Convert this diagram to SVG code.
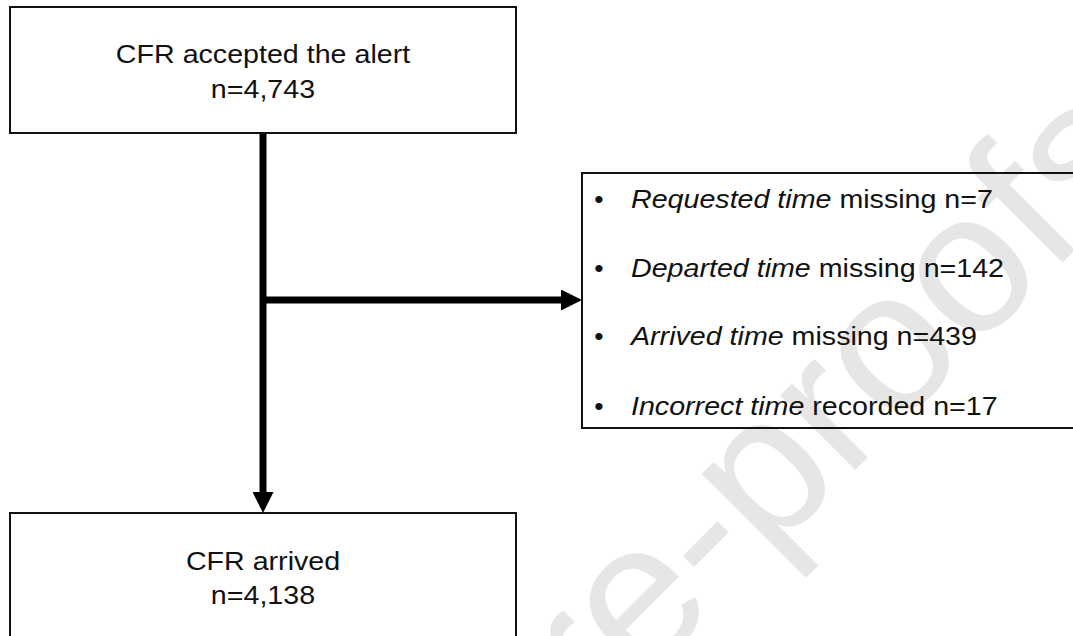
<svg xmlns="http://www.w3.org/2000/svg" width="1073" height="636" viewBox="0 0 1073 636">
  <defs>
    <style>
      .box { fill: none; stroke: #111; stroke-width: 2; }
      .lbl { font-family: "Liberation Sans", Arial, sans-serif; font-size: 26.5px; fill: #111; }
      .wm { font-family: "Liberation Sans", Arial, sans-serif; font-size: 200px; fill: #e6e6e6; }
      .conn { fill: none; stroke: #000; stroke-width: 7; }
    </style>
    <marker id="head" viewBox="0 0 21 21" refX="0" refY="10.5" markerWidth="21" markerHeight="21" markerUnits="userSpaceOnUse" orient="auto">
      <path d="M0,0 L21,10.5 L0,21 Z" fill="#000"/>
    </marker>
  </defs>
  <rect x="0" y="0" width="1073" height="636" fill="#fff"/>
  <text class="wm" text-anchor="end" transform="translate(1160,165) rotate(-45)">Journal Pre-proofs</text>

  <g id="connectors">
    <path class="conn" d="M263,133 V492" marker-end="url(#head)"/>
    <path class="conn" d="M263,300 H561" marker-end="url(#head)"/>
  </g>

  <g id="node-accepted">
    <rect class="box" x="10" y="7" width="506" height="126"/>
    <g transform="translate(263,0) scale(1.08,1)">
      <text class="lbl" text-anchor="middle" x="0" y="63">CFR accepted the alert</text>
      <text class="lbl" text-anchor="middle" x="0" y="98">n=4,743</text>
    </g>
  </g>

  <g id="node-excluded">
    <rect class="box" x="582" y="173" width="500" height="255"/>
    <g class="lbl">
      <text class="lbl" text-anchor="middle" x="599" y="208">•</text>
      <text class="lbl" text-anchor="middle" x="599" y="277">•</text>
      <text class="lbl" text-anchor="middle" x="599" y="345">•</text>
      <text class="lbl" text-anchor="middle" x="599" y="415">•</text>
    </g>
    <g transform="translate(631,0) scale(1.08,1)">
      <text class="lbl" x="0" y="208"><tspan font-style="italic">Requested time</tspan> missing n=7</text>
      <text class="lbl" x="0" y="277"><tspan font-style="italic">Departed time</tspan> missing n=142</text>
      <text class="lbl" x="0" y="345"><tspan font-style="italic">Arrived time</tspan> missing n=439</text>
      <text class="lbl" x="0" y="415"><tspan font-style="italic">Incorrect time</tspan> recorded n=17</text>
    </g>
  </g>

  <g id="node-arrived">
    <rect class="box" x="10" y="513" width="506" height="140"/>
    <g transform="translate(263,0) scale(1.08,1)">
      <text class="lbl" text-anchor="middle" x="0" y="570">CFR arrived</text>
      <text class="lbl" text-anchor="middle" x="0" y="604">n=4,138</text>
    </g>
  </g>
</svg>
